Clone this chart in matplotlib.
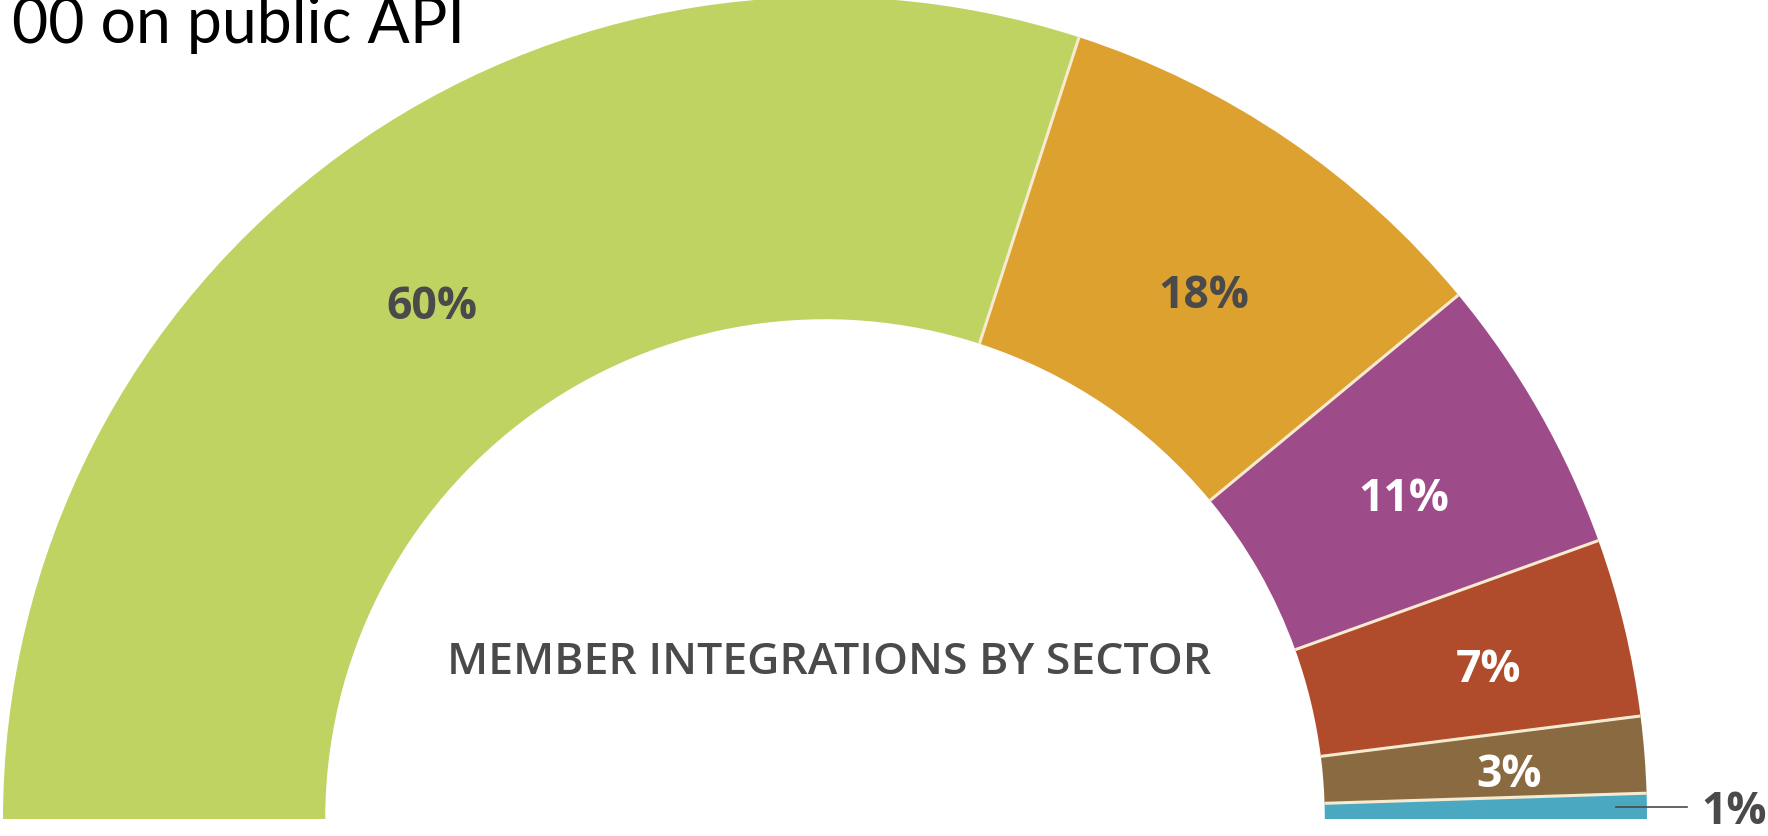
import numpy as np
import matplotlib.pyplot as plt

# sector shares (percent), drawn as a half donut
sectors = ["Sector A", "Sector B", "Sector C", "Sector D", "Sector E", "Sector F"]
shares = [60, 18, 11, 7, 3, 1]
labels = ["60%", "18%", "11%", "7%", "3%", "1%"]
colors = ["#bfd362", "#dca12f", "#9e4b8a", "#b04b2b", "#8a6a40", "#4ba8c1"]
label_colors = ["#4a4a4a", "#4a4a4a", "#ffffff", "#ffffff", "#ffffff", "#4a4a4a"]
label_radius = [0.795, 0.795, 0.81, 0.83, 0.835, None]
label_turn = [1.0, -1.2, 0.0, 0.0, 0.0, 0.0]

title_text = "00 on public API"
center_text = "MEMBER INTEGRATIONS BY SECTOR"

W, H = 1768, 836
fig = plt.figure(figsize=(W / 100, H / 100), dpi=100)
ax = fig.add_axes([0, 0, 1, 1])

# half donut: hidden wedge fills the lower half
total = sum(shares)
values = shares + [total]
wedge_colors = colors + ["none"]
wedges, _ = ax.pie(
    values,
    colors=wedge_colors,
    startangle=180,
    counterclock=False,
    radius=1.0,
    wedgeprops=dict(width=0.392, linewidth=0, edgecolor="none"),
)

# pixel-matched limits: centre at (825, 819) px, outer radius 822 px
scale = 822.0
cx, cy = 825.0, H - 819.0
ax.set_xlim(-cx / scale, (W - cx) / scale)
ax.set_ylim(-cy / scale, (H - cy) / scale)
ax.set_aspect("auto")
ax.axis("off")

# cream separators between sectors
inner = 1.0 - 0.392
bounds = 180.0 - np.cumsum(shares)[:-1] / total * 180.0
for ang in bounds:
    t = np.deg2rad(ang)
    ax.plot([inner * np.cos(t), np.cos(t)], [inner * np.sin(t), np.sin(t)],
            color="#f6ead0", linewidth=2.2, solid_capstyle="butt", zorder=3)

# percentage labels
starts = 180.0 - np.concatenate([[0], np.cumsum(shares)[:-1]]) / total * 180.0
mids = starts - np.array(shares) / total * 90.0
for lab, col, r, mid, turn in zip(labels, label_colors, label_radius, mids, label_turn):
    t = np.deg2rad(mid + turn)
    if r is None:
        x0, y0 = 0.963 * np.cos(t), 0.963 * np.sin(t)
        ax.plot([x0, 1.049], [y0, y0], color="#4a4a4a", linewidth=1.2, zorder=4)
        ax.text(1.066, y0, lab, ha="left", va="center_baseline", color=col,
                fontsize=32, fontweight="bold", family="Open Sans", zorder=5)
        continue
    ax.text(r * np.cos(t), r * np.sin(t) - 0.006, lab, ha="center",
            va="center_baseline", color=col, fontsize=32, fontweight="bold",
            family="Open Sans", zorder=5)

ax.text((829 - cx) / scale, (H - 657 - cy) / scale, center_text, ha="center",
        va="center_baseline", color="#4a4a4a", fontsize=32, fontweight="semibold",
        family="Open Sans")

fig.text(12 / W, 1 - 43 / H, title_text, ha="left", va="baseline",
         color="#000000", fontsize=45, fontweight="normal", family="Lato")

fig.savefig("out.png", dpi=100)
plt.close(fig)
